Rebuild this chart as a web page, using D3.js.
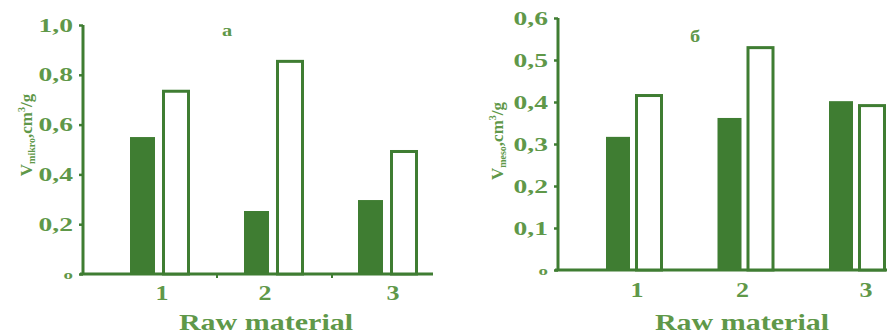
<!DOCTYPE html>
<html>
<head>
<meta charset="utf-8">
<script src="https://cdn.jsdelivr.net/npm/d3@7/dist/d3.min.js"></script>
<style>
  html, body { margin: 0; padding: 0; background: #ffffff; }
  svg { display: block; }
  text { font-family: "Liberation Serif", "DejaVu Serif", serif; font-weight: bold; }
</style>
</head>
<body>
<svg id="chart" width="887" height="335"></svg>
<script>
// Raw material samples on the x axis
const categories = ["1", "2", "3"];

// Panel a: micropore volume, cm3/g
const microFilled = [0.55, 0.253, 0.297];
const microOpen   = [0.74, 0.86, 0.498];
const microTicks  = [0, 0.2, 0.4, 0.6, 0.8, 1.0];

// Panel б: mesopore volume, cm3/g
const mesoFilled = [0.317, 0.362, 0.402];
const mesoOpen   = [0.419, 0.533, 0.395];
const mesoTicks  = [0, 0.1, 0.2, 0.3, 0.4, 0.5, 0.6];

const barColor  = "#3f7d32";
const textColor = "#5f9849";

const svg = d3.select("#chart");
const fmt = v => v === 0 ? "o" : d3.format(".1f")(v).replace(".", ",");

// widen glyphs horizontally by factor k (text keeps its anchor)
function widen(sel, k) {
  sel.each(function () {
    const L = this.getComputedTextLength();
    d3.select(this).attr("textLength", L * k).attr("lengthAdjust", "spacingAndGlyphs");
  });
}

function panel(cfg) {
  const g = svg.append("g");
  const y = d3.scaleLinear().domain([0, cfg.yMax]).range([cfg.y0, cfg.yTop]);
  const x = d3.scalePoint().domain(categories).range(cfg.xRange);

  // y axis
  const yAxis = d3.axisLeft(y).tickValues(cfg.ticks).tickFormat(fmt).tickSize(4).tickPadding(6);
  const ya = g.append("g").attr("transform", `translate(${cfg.axisX},0)`).call(yAxis);
  ya.select(".domain").attr("stroke", barColor).attr("stroke-width", 3).attr("d", `M0,${cfg.yTop}V${cfg.y0}`);
  ya.selectAll(".tick line").attr("stroke", barColor).attr("stroke-width", 2.5);
  const tt = ya.selectAll(".tick text")
    .attr("fill", textColor)
    .style("font-family", "Liberation Serif, serif")
    .style("font-weight", "bold")
    .style("font-size", d => d === 0 ? "13px" : "19px");
  widen(tt, 1.45);

  // x axis baseline
  g.append("line")
    .attr("x1", cfg.axisX - 3).attr("x2", cfg.xEnd)
    .attr("y1", y(0)).attr("y2", y(0))
    .attr("stroke", barColor).attr("stroke-width", 3);
  // small marks between groups
  cfg.minor.forEach(mx => {
    g.append("line").attr("x1", mx).attr("x2", mx)
      .attr("y1", y(0)).attr("y2", y(0) + 4)
      .attr("stroke", barColor).attr("stroke-width", 2);
  });

  // filled bars
  g.selectAll(".bf").data(cfg.filled).join("rect")
    .attr("x", (d, i) => x(categories[i]) + cfg.fOff)
    .attr("width", cfg.fW)
    .attr("y", d => y(d))
    .attr("height", d => y(0) - y(d))
    .attr("fill", barColor);

  // open bars
  g.selectAll(".bo").data(cfg.open).join("rect")
    .attr("x", (d, i) => x(categories[i]) + cfg.oOff + 1.5)
    .attr("width", cfg.oW - 3)
    .attr("y", d => y(d) + 1.5)
    .attr("height", d => y(0) - y(d) - 1.5)
    .attr("fill", "#ffffff")
    .attr("stroke", barColor)
    .attr("stroke-width", 3);

  // category labels
  const cl = g.selectAll(".cl").data(categories).join("text")
    .attr("x", (d, i) => x(d) + cfg.labOff[i])
    .attr("y", cfg.catY)
    .attr("text-anchor", "middle")
    .attr("fill", textColor)
    .style("font-size", "20px")
    .text(d => d);
  widen(cl, 1.3);

  // x title
  const xt = g.append("text")
    .attr("x", cfg.titleX).attr("y", 330)
    .attr("text-anchor", "middle")
    .attr("fill", textColor)
    .style("font-size", "24px")
    .text("Raw material");
  widen(xt, 1.25);

  // panel letter
  const lt = g.append("text")
    .attr("x", cfg.letterX).attr("y", cfg.letterY)
    .attr("text-anchor", "middle")
    .attr("fill", textColor)
    .style("font-size", "17px")
    .text(cfg.letter);
  widen(lt, 1.2);

  // y title
  const yt = g.append("text")
    .attr("transform", `translate(${cfg.ylabX},${cfg.ylabY}) rotate(-90)`)
    .attr("text-anchor", "middle")
    .attr("fill", textColor)
    .style("font-size", "17px");
  yt.append("tspan").text("V");
  yt.append("tspan").attr("dy", 3).style("font-size", "10px").text(cfg.sub);
  yt.append("tspan").attr("dy", -3).text(",cm");
  yt.append("tspan").attr("dy", -7).style("font-size", "10px").text("3");
  yt.append("tspan").attr("dy", 7).text("/g");
}

panel({
  axisX: 83, y0: 274, yTop: 25, yMax: 1.0, ticks: microTicks,
  xRange: [160, 388], xEnd: 433, minor: [217, 332],
  filled: microFilled, open: microOpen,
  fOff: -30, fW: 25, oOff: 2, oW: 28,
  labOff: [2, -9, 5], catY: 300,
  titleX: 266, letter: "a", letterX: 227, letterY: 36,
  ylabX: 32, ylabY: 135, sub: "mikro"
});

panel({
  axisX: 558, y0: 270, yTop: 18, yMax: 0.6, ticks: mesoTicks,
  xRange: [634, 857], xEnd: 887, minor: [],
  filled: mesoFilled, open: mesoOpen,
  fOff: -28, fW: 24, oOff: 1, oW: 28,
  labOff: [3, -3, 9], catY: 297,
  titleX: 742, letter: "б", letterX: 695, letterY: 42,
  ylabX: 503, ylabY: 141, sub: "meso"
});
</script>
</body>
</html>
